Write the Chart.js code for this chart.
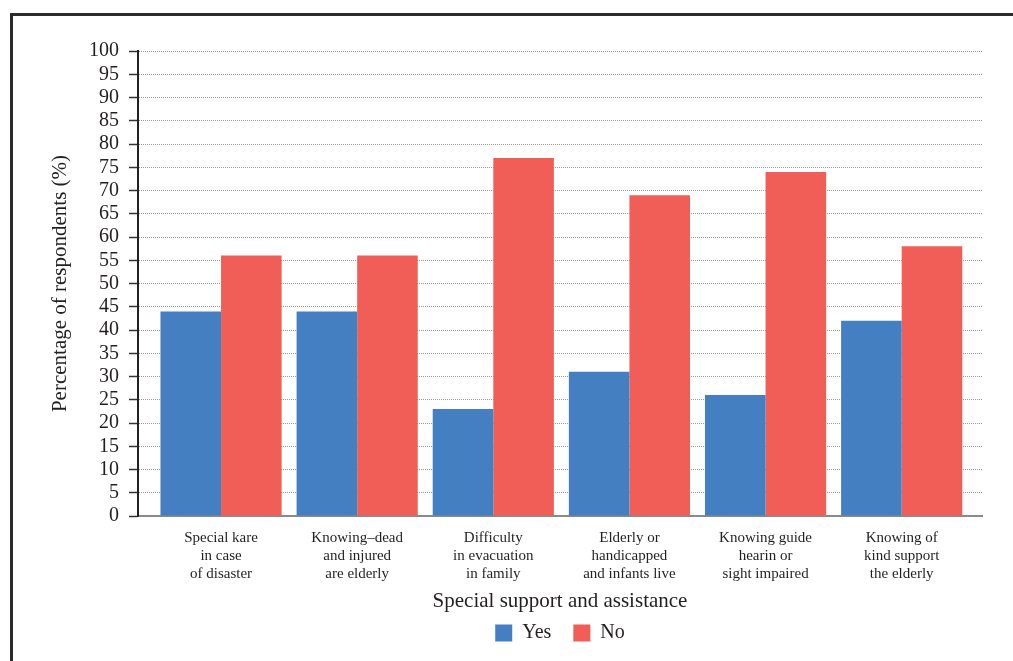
<!DOCTYPE html>
<html>
<head>
<meta charset="utf-8">
<script src="https://cdn.jsdelivr.net/npm/chart.js@4/dist/chart.umd.min.js"></script>
<style>
  html, body { margin: 0; padding: 0; background: #fff; }
  #wrap { position: relative; width: 1013px; height: 661px; overflow: hidden; }
  #frame { position: absolute; left: 10px; top: 13px; width: 1100px; height: 700px;
           border-top: 3px solid #2b2b2b; border-left: 3px solid #2b2b2b; }
  canvas { position: absolute; left: 0; top: 0; }
</style>
</head>
<body>
<div id="wrap">
  <div id="frame"></div>
  <canvas id="c" width="1013" height="661"></canvas>
</div>
<script>
const categories = [
  ["Special kare", "in case", "of disaster"],
  ["Knowing\u2013dead", "and injured", "are elderly"],
  ["Difficulty", "in evacuation", "in family"],
  ["Elderly or", "handicapped", "and infants live"],
  ["Knowing guide", "hearin or", "sight impaired"],
  ["Knowing of", "kind support", "the elderly"]
];
const yesValues = [44, 44, 23, 31, 26, 42];
const noValues = [56, 56, 77, 69, 74, 58];
const seriesNames = ["Yes", "No"];
const yTickStep = 5;
const yMax = 100;

const SERIF = "'Liberation Serif', 'DejaVu Serif', serif";
const TEXT = '#231f20';

const toPoints = arr => arr.map((v, i) => ({ x: i, y: v }));

new Chart(document.getElementById('c'), {
  type: 'bar',
  data: {
    datasets: [
      { label: seriesNames[0], data: toPoints(yesValues), backgroundColor: '#437fc1', borderWidth: 0 },
      { label: seriesNames[1], data: toPoints(noValues), backgroundColor: '#f15e58', borderWidth: 0 }
    ]
  },
  options: {
    responsive: false,
    animation: false,
    devicePixelRatio: 1,
    layout: { padding: { left: 48, right: 31, top: 51, bottom: 8 } },
    datasets: { bar: { categoryPercentage: 0.89, barPercentage: 1.0 } },
    plugins: {
      tooltip: { enabled: false },
      legend: {
        position: 'bottom',
        fullSize: false,
        labels: {
          font: { family: SERIF, size: 20 },
          color: TEXT,
          boxWidth: 17,
          boxHeight: 17,
          padding: 22
        }
      }
    },
    scales: {
      x: {
        type: 'linear',
        min: -0.61,
        max: 5.59,
        offset: false,
        grid: { display: false, drawTicks: false, offset: false },
        border: { display: true, color: '#8a8a8a', width: 2 },
        ticks: {
          stepSize: 1,
          includeBounds: false,
          autoSkip: false,
          maxRotation: 0,
          minRotation: 0,
          padding: 13,
          color: TEXT,
          font: { family: SERIF, size: 15, lineHeight: 1.2 },
          callback: v => (Number.isInteger(v) && v >= 0 && v < categories.length) ? categories[v] : ''
        },
        title: {
          display: true,
          text: 'Special support and assistance',
          color: TEXT,
          font: { family: SERIF, size: 21 },
          padding: { top: 0, bottom: -13.5 }
        },
        afterFit: s => { s.height = 85; }
      },
      y: {
        min: 0,
        max: yMax,
        grid: {
          color: '#9a9a9a',
          lineWidth: 1,
          drawTicks: true,
          tickLength: 9,
          tickColor: '#333',
          tickWidth: 1.5,
          tickBorderDash: []
        },
        border: { display: true, color: '#222', width: 2, dash: [1, 1] },
        ticks: {
          stepSize: yTickStep,
          autoSkip: false,
          padding: 10,
          color: TEXT,
          font: { family: SERIF, size: 20 }
        },
        title: {
          display: true,
          text: 'Percentage of respondents (%)',
          color: TEXT,
          font: { family: SERIF, size: 21 },
          padding: { top: 0, bottom: 0 }
        },
        afterFit: s => { s.width = 90; }
      }
    }
  }
});
</script>
</body>
</html>
